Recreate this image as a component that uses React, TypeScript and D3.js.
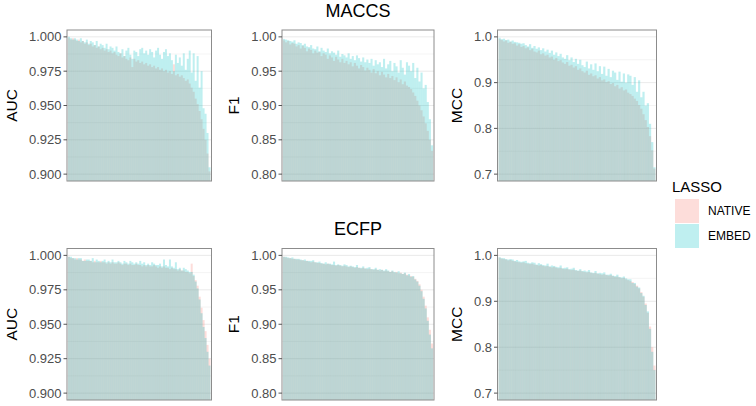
import React from 'react';
import * as d3 from 'd3';

// MACCS fingerprints
const maccsAucNative = [
  0.999, 0.998, 0.999, 0.998, 0.997, 0.998, 0.996, 0.997, 0.995, 0.996,
  0.994, 0.995, 0.993, 0.994, 0.992, 0.993, 0.991, 0.992, 0.990, 0.991,
  0.989, 0.990, 0.988, 0.989, 0.987, 0.986, 0.988, 0.985, 0.986, 0.984,
  0.983, 0.985, 0.978, 0.984, 0.982, 0.983, 0.981, 0.982, 0.980, 0.981,
  0.979, 0.980, 0.978, 0.979, 0.977, 0.978, 0.976, 0.977, 0.975, 0.976,
  0.974, 0.975, 0.973, 0.980, 0.972, 0.973, 0.971, 0.972, 0.970, 0.968,
  0.969, 0.966, 0.963, 0.960, 0.955, 0.951, 0.946, 0.940, 0.933, 0.925,
  0.915, 0.902,
];
const maccsAucEmbed = [
  1.000, 0.999, 0.998, 0.999, 0.998, 0.997, 0.999, 0.997, 0.996, 0.998,
  0.995, 0.997, 0.996, 0.994, 0.997, 0.993, 0.995, 0.994, 0.992, 0.995,
  0.991, 0.993, 0.992, 0.990, 0.993, 0.989, 0.988, 0.991, 0.986, 0.990,
  0.992, 0.987, 0.984, 0.990, 0.989, 0.986, 0.991, 0.992, 0.988, 0.990,
  0.987, 0.991, 0.989, 0.985, 0.990, 0.992, 0.987, 0.984, 0.989, 0.991,
  0.986, 0.988, 0.983, 0.975, 0.987, 0.981, 0.985, 0.979, 0.988, 0.976,
  0.984, 0.990, 0.974, 0.988, 0.968, 0.986, 0.963, 0.975, 0.948, 0.944,
  0.930, 0.905,
];
const maccsF1Native = [
  0.995, 0.992, 0.994, 0.989, 0.991, 0.990, 0.986, 0.988, 0.983, 0.987,
  0.984, 0.979, 0.983, 0.981, 0.976, 0.980, 0.977, 0.978, 0.972, 0.976,
  0.974, 0.968, 0.973, 0.970, 0.965, 0.971, 0.967, 0.963, 0.968, 0.962,
  0.965, 0.960, 0.963, 0.957, 0.962, 0.958, 0.954, 0.959, 0.956, 0.951,
  0.955, 0.952, 0.948, 0.953, 0.947, 0.950, 0.944, 0.949, 0.945, 0.941,
  0.946, 0.940, 0.943, 0.937, 0.941, 0.934, 0.938, 0.931, 0.935, 0.929,
  0.927, 0.924, 0.919, 0.914, 0.907, 0.900, 0.893, 0.884, 0.874, 0.863,
  0.850, 0.834,
];
const maccsF1Embed = [
  0.997, 0.996, 0.995, 0.994, 0.993, 0.995, 0.990, 0.992, 0.991, 0.988,
  0.990, 0.986, 0.985, 0.988, 0.983, 0.982, 0.986, 0.979, 0.984, 0.980,
  0.978, 0.983, 0.976, 0.979, 0.977, 0.974, 0.980, 0.971, 0.975, 0.973,
  0.970, 0.976, 0.968, 0.972, 0.966, 0.973, 0.969, 0.964, 0.970, 0.963,
  0.967, 0.962, 0.968, 0.958, 0.966, 0.960, 0.963, 0.956, 0.968, 0.954,
  0.960, 0.965, 0.950, 0.962, 0.957, 0.948, 0.966, 0.955, 0.945, 0.963,
  0.958, 0.950, 0.962, 0.940, 0.955, 0.935, 0.948, 0.925, 0.930, 0.905,
  0.880, 0.842,
];
const maccsMccNative = [
  0.995, 0.993, 0.990, 0.992, 0.987, 0.989, 0.985, 0.986, 0.981, 0.984,
  0.978, 0.980, 0.975, 0.977, 0.971, 0.974, 0.968, 0.966, 0.970, 0.962,
  0.964, 0.959, 0.961, 0.955, 0.957, 0.950, 0.954, 0.947, 0.949, 0.944,
  0.941, 0.945, 0.937, 0.939, 0.933, 0.936, 0.928, 0.931, 0.925, 0.922,
  0.926, 0.917, 0.920, 0.914, 0.916, 0.909, 0.912, 0.905, 0.907, 0.901,
  0.903, 0.897, 0.899, 0.892, 0.895, 0.887, 0.890, 0.883, 0.885, 0.878,
  0.875, 0.871, 0.865, 0.860, 0.851, 0.843, 0.831, 0.818, 0.803, 0.783,
  0.752, 0.712,
];
const maccsMccEmbed = [
  0.998, 0.995, 0.996, 0.993, 0.994, 0.990, 0.992, 0.989, 0.988, 0.987,
  0.985, 0.986, 0.982, 0.979, 0.984, 0.976, 0.980, 0.974, 0.977, 0.971,
  0.975, 0.968, 0.972, 0.965, 0.970, 0.961, 0.966, 0.958, 0.963, 0.955,
  0.952, 0.960, 0.949, 0.955, 0.945, 0.952, 0.941, 0.950, 0.938, 0.934,
  0.946, 0.931, 0.940, 0.928, 0.942, 0.925, 0.936, 0.919, 0.935, 0.915,
  0.930, 0.912, 0.926, 0.922, 0.906, 0.924, 0.902, 0.920, 0.900, 0.918,
  0.915, 0.895, 0.912, 0.880, 0.905, 0.868, 0.880, 0.850, 0.855, 0.810,
  0.770, 0.715,
];

// ECFP fingerprints
const ecfpAucNative = [
  0.999, 0.998, 0.998, 0.997, 0.998, 0.997, 0.997, 0.996, 0.997, 0.996,
  0.996, 0.996, 0.995, 0.996, 0.995, 0.995, 0.996, 0.995, 0.995, 0.994,
  0.995, 0.994, 0.995, 0.994, 0.994, 0.995, 0.994, 0.993, 0.994, 0.994,
  0.993, 0.994, 0.993, 0.993, 0.994, 0.993, 0.993, 0.992, 0.993, 0.992,
  0.993, 0.992, 0.992, 0.993, 0.992, 0.991, 0.992, 0.991, 0.992, 0.991,
  0.991, 0.990, 0.991, 0.990, 0.990, 0.989, 0.990, 0.989, 0.989, 0.988,
  0.988, 0.987, 0.994, 0.985, 0.982, 0.978, 0.970, 0.962, 0.953, 0.945,
  0.935, 0.925,
];
const ecfpAucEmbed = [
  0.999, 0.999, 0.998, 0.998, 0.997, 0.998, 0.998, 0.996, 0.996, 0.997,
  0.997, 0.996, 0.998, 0.995, 0.997, 0.996, 0.995, 0.996, 0.997, 0.995,
  0.996, 0.995, 0.997, 0.995, 0.995, 0.996, 0.995, 0.994, 0.996, 0.995,
  0.994, 0.996, 0.995, 0.994, 0.995, 0.994, 0.996, 0.994, 0.995, 0.993,
  0.994, 0.993, 0.995, 0.994, 0.993, 0.993, 0.994, 0.992, 0.997, 0.993,
  0.992, 0.997, 0.992, 0.991, 0.995, 0.990, 0.991, 0.989, 0.991, 0.990,
  0.989, 0.988, 0.988, 0.986, 0.981, 0.976, 0.968, 0.958, 0.948, 0.940,
  0.930, 0.920,
];
const ecfpF1Native = [
  0.998, 0.997, 0.996, 0.996, 0.995, 0.995, 0.994, 0.994, 0.993, 0.993,
  0.992, 0.992, 0.991, 0.990, 0.991, 0.990, 0.989, 0.989, 0.988, 0.988,
  0.987, 0.988, 0.987, 0.986, 0.986, 0.985, 0.986, 0.985, 0.984, 0.985,
  0.984, 0.983, 0.984, 0.983, 0.982, 0.983, 0.982, 0.981, 0.982, 0.981,
  0.980, 0.981, 0.980, 0.979, 0.980, 0.979, 0.978, 0.979, 0.977, 0.978,
  0.977, 0.976, 0.977, 0.975, 0.976, 0.974, 0.975, 0.973, 0.974, 0.972,
  0.971, 0.970, 0.969, 0.966, 0.963, 0.958, 0.950, 0.940, 0.927, 0.910,
  0.892, 0.872,
];
const ecfpF1Embed = [
  0.998, 0.998, 0.997, 0.996, 0.997, 0.995, 0.995, 0.995, 0.994, 0.993,
  0.994, 0.992, 0.992, 0.992, 0.993, 0.990, 0.990, 0.991, 0.989, 0.988,
  0.990, 0.988, 0.988, 0.987, 0.991, 0.986, 0.987, 0.986, 0.985, 0.987,
  0.986, 0.984, 0.985, 0.984, 0.983, 0.986, 0.982, 0.982, 0.984, 0.981,
  0.982, 0.983, 0.980, 0.980, 0.982, 0.979, 0.980, 0.979, 0.978, 0.980,
  0.978, 0.976, 0.978, 0.976, 0.975, 0.977, 0.974, 0.973, 0.975, 0.971,
  0.973, 0.969, 0.970, 0.965, 0.962, 0.956, 0.948, 0.937, 0.923, 0.905,
  0.885, 0.865,
];
const ecfpMccNative = [
  0.995, 0.993, 0.992, 0.991, 0.989, 0.990, 0.988, 0.987, 0.986, 0.985,
  0.984, 0.985, 0.983, 0.982, 0.981, 0.982, 0.980, 0.979, 0.978, 0.979,
  0.977, 0.976, 0.977, 0.975, 0.974, 0.975, 0.973, 0.972, 0.973, 0.971,
  0.970, 0.971, 0.969, 0.968, 0.969, 0.967, 0.966, 0.967, 0.965, 0.964,
  0.963, 0.964, 0.962, 0.961, 0.962, 0.960, 0.959, 0.958, 0.959, 0.957,
  0.956, 0.957, 0.955, 0.953, 0.954, 0.952, 0.950, 0.951, 0.948, 0.946,
  0.944, 0.942, 0.938, 0.934, 0.928, 0.920, 0.910, 0.895, 0.875, 0.845,
  0.800, 0.760,
];
const ecfpMccEmbed = [
  0.996, 0.994, 0.994, 0.992, 0.991, 0.992, 0.991, 0.988, 0.990, 0.987,
  0.986, 0.987, 0.988, 0.984, 0.983, 0.985, 0.984, 0.980, 0.983, 0.981,
  0.979, 0.978, 0.982, 0.976, 0.978, 0.977, 0.975, 0.974, 0.978, 0.972,
  0.973, 0.974, 0.970, 0.971, 0.973, 0.968, 0.967, 0.970, 0.966, 0.967,
  0.965, 0.968, 0.963, 0.962, 0.966, 0.961, 0.962, 0.961, 0.963, 0.958,
  0.958, 0.960, 0.956, 0.955, 0.958, 0.953, 0.952, 0.954, 0.950, 0.948,
  0.948, 0.940, 0.940, 0.932, 0.930, 0.918, 0.912, 0.892, 0.878, 0.840,
  0.790, 0.750,
];

const rowTitles = ['MACCS', 'ECFP'];
const metricNames = ['AUC', 'F1', 'MCC'];
const aucTicks = [0.9, 0.925, 0.95, 0.975, 1.0];
const f1Ticks = [0.8, 0.85, 0.9, 0.95, 1.0];
const mccTicks = [0.7, 0.8, 0.9, 1.0];
const seriesNames = ['NATIVE', 'EMBED'];
const seriesColors = ['#F8766D', '#00BFC4'];

const W = 756;
const H = 406;
const FONT = 'Liberation Sans, Arial, Helvetica, sans-serif';
const ALPHA = 0.25;

const metricAxes = [
  { ticks: aucTicks, domain: [0.895, 1.005], fmt: d3.format('.3f') },
  { ticks: f1Ticks, domain: [0.79, 1.01], fmt: d3.format('.2f') },
  { ticks: mccTicks, domain: [0.685, 1.015], fmt: d3.format('.1f') },
];

const panelCols = [
  { x0: 67, x1: 211.5, labelX: 12 },
  { x0: 282, x1: 434, labelX: 234 },
  { x0: 497.5, x1: 656.5, labelX: 457 },
];
const panelRows = [
  { y0: 30, y1: 181, titleY: 17 },
  { y0: 248.5, y1: 400, titleY: 235 },
];

const rowData = [
  [
    [maccsAucNative, maccsAucEmbed],
    [maccsF1Native, maccsF1Embed],
    [maccsMccNative, maccsMccEmbed],
  ],
  [
    [ecfpAucNative, ecfpAucEmbed],
    [ecfpF1Native, ecfpF1Embed],
    [ecfpMccNative, ecfpMccEmbed],
  ],
];

function Panel({ row, col }: { row: number; col: number }) {
  const { x0, x1, labelX } = panelCols[col];
  const { y0, y1 } = panelRows[row];
  const axis = metricAxes[col];
  const series = rowData[row][col];
  const n = series[0].length;

  const x = d3.scaleBand<number>().domain(d3.range(n)).range([x0 + 1, x1 - 1]).padding(0);
  const y = d3.scaleLinear().domain(axis.domain).range([y1, y0]);
  const minor = axis.ticks.slice(1).map((t, i) => (t + axis.ticks[i]) / 2);
  const clipId = `clip-${row}-${col}`;

  return (
    <g>
      <defs>
        <clipPath id={clipId}>
          <rect x={x0} y={y0} width={x1 - x0} height={y1 - y0} />
        </clipPath>
      </defs>
      <rect x={x0} y={y0} width={x1 - x0} height={y1 - y0} fill="#fff" />
      {minor.map((t) => (
        <line key={`m${t}`} x1={x0} x2={x1} y1={y(t)} y2={y(t)} stroke="#EDEDED" strokeWidth={0.6} />
      ))}
      {axis.ticks.map((t) => (
        <line key={`g${t}`} x1={x0} x2={x1} y1={y(t)} y2={y(t)} stroke="#E4E4E4" strokeWidth={0.8} />
      ))}
      <g clipPath={`url(#${clipId})`}>
        {series.map((vals, s) => (
          <g key={s} fill={seriesColors[s]} fillOpacity={ALPHA}>
            {vals.map((v, i) => (
              <rect key={i} x={x(i)} y={y(v)} width={x.bandwidth() + 0.02} height={y1 - y(v) + 2} />
            ))}
          </g>
        ))}
      </g>
      <rect x={x0} y={y0} width={x1 - x0} height={y1 - y0} fill="none" stroke="#8C8C8C" strokeWidth={1} />
      {axis.ticks.map((t) => (
        <g key={`t${t}`}>
          <line x1={x0 - 3.5} x2={x0} y1={y(t)} y2={y(t)} stroke="#555" strokeWidth={1} />
          <text x={x0 - 5.5} y={y(t)} dy="0.35em" textAnchor="end" fontSize={13} fill="#4D4D4D" fontFamily={FONT}>
            {axis.fmt(t)}
          </text>
        </g>
      ))}
      <text
        transform={`translate(${labelX},${(y0 + y1) / 2}) rotate(-90)`}
        dy="0.35em"
        textAnchor="middle"
        fontSize={15.5}
        fill="#000"
        fontFamily={FONT}
      >
        {metricNames[col]}
      </text>
    </g>
  );
}

export default function App() {
  return (
    <svg width={W} height={H} style={{ position: 'absolute', left: 0, top: 0, background: '#fff' }}>
      <rect width={W} height={H} fill="#fff" />
      {panelRows.map((r, ri) => (
        <g key={ri}>
          <text x={358} y={r.titleY} textAnchor="middle" fontSize={18} fill="#000" fontFamily={FONT}>
            {rowTitles[ri]}
          </text>
          {panelCols.map((_, ci) => (
            <Panel key={ci} row={ri} col={ci} />
          ))}
        </g>
      ))}
      <g fontFamily={FONT}>
        <text x={672} y={192} fontSize={15} fill="#000">LASSO</text>
        {seriesNames.map((name, i) => (
          <g key={name}>
            <rect x={675} y={199 + i * 25} width={24} height={24} fill={seriesColors[i]} fillOpacity={ALPHA} />
            <text x={708} y={211 + i * 25} dy="0.35em" fontSize={12} fill="#000">{name}</text>
          </g>
        ))}
      </g>
    </svg>
  );
}
